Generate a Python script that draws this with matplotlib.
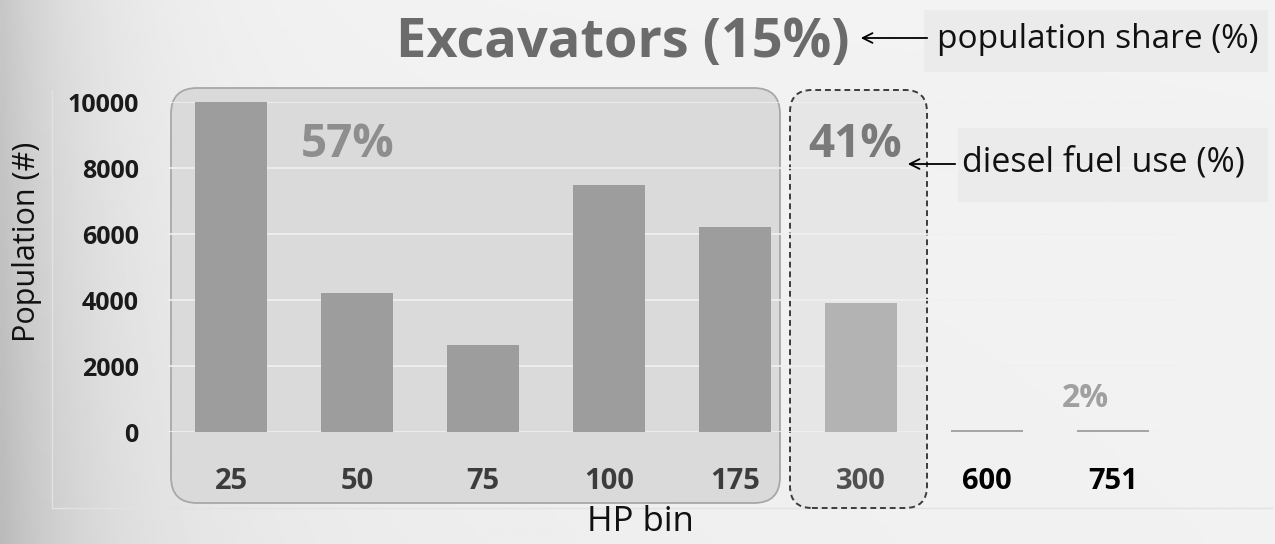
import numpy as np
import matplotlib.pyplot as plt
from matplotlib.patches import FancyBboxPatch, FancyArrowPatch
from matplotlib.transforms import IdentityTransform

plt.rcParams['font.family'] = ['Open Sans', 'DejaVu Sans']

# HP bins and excavator population per bin
hp_bins = ["25", "50", "75", "100", "175", "300", "600", "751"]
population = [10000, 4200, 2650, 7500, 6200, 3900, 60, 60]
bar_colors = ["#9d9d9d"] * 5 + ["#b3b3b3", "#a6a6a6", "#a6a6a6"]
tick_colors = ["#3c3c3c"] * 5 + ["#505050", "#000000", "#000000"]

# fuel-use shares for the grouped bins
fuel_share = ["57%", "41%", "2%"]
pop_share = "15%"

W, H = 1275, 544
fig = plt.figure(figsize=(W / 100, H / 100), dpi=100)

# soft grey backdrop, darker toward the left edge
bg = fig.add_axes([0, 0, 1, 1], zorder=-10)
xx, yy = np.meshgrid(np.linspace(0, 1, 400), np.linspace(0, 1, 200))
shade = 0.95 - 0.17 * np.exp(-xx / 0.07) - 0.05 * yy * np.exp(-xx / 0.4)
bg.imshow(shade, cmap="gray", vmin=0, vmax=1, aspect="auto", extent=[0, 1, 0, 1])
bg.axis("off")


# boxes placed in pixel space (y measured from the top)
def px_box(x0, y0, x1, y1, **kw):
    p = FancyBboxPatch((x0, H - y1), x1 - x0, y1 - y0,
                       transform=IdentityTransform(), **kw)
    fig.patches.append(p)
    return p


def ptext(px, py, s, **kw):
    fig.text(px / W, 1 - py / H, s, **kw)


# faint chart-area edges (left and bottom)
fig.add_artist(plt.Line2D([52, 52, 1272], [H - 90, H - 508, H - 508],
                          transform=IdentityTransform(), color="#e2e2e2",
                          linewidth=1, zorder=0))

# rounded group boxes
px_box(171, 88, 780, 503, boxstyle="round,pad=0,rounding_size=26",
       facecolor="#dadada", edgecolor="#a8a8a8", linewidth=1.3, zorder=1)
px_box(790, 90, 927, 508, boxstyle="round,pad=0,rounding_size=22",
       facecolor="#e6e6e6", edgecolor="#3c3c3c", linewidth=1.4,
       linestyle=(0, (3, 2)), zorder=1)
# label backgrounds
px_box(924, 10, 1268, 72, boxstyle="square,pad=0", facecolor="#ebebeb",
       edgecolor="none", zorder=1)
px_box(958, 128, 1268, 202, boxstyle="square,pad=0", facecolor="#ebebeb",
       edgecolor="none", zorder=1)

ax = fig.add_axes([168 / W, (H - 432) / H, (1176 - 168) / W, 330 / H], zorder=2)
ax.patch.set_alpha(0)
x = np.arange(len(hp_bins))
ax.bar(x, population, width=0.57, color=bar_colors, zorder=3)
ax.set_xlim(-0.5, 7.5)
ax.set_ylim(0, 10000)
ax.set_yticks(range(0, 10001, 2000))
ax.set_yticklabels([str(v) for v in range(0, 10001, 2000)],
                   fontsize=18, fontweight="bold", color="#1a1a1a")
ax.set_xticks(x)
ax.set_xticklabels(hp_bins, fontsize=21, fontweight="bold")
for lbl, c in zip(ax.get_xticklabels(), tick_colors):
    lbl.set_color(c)
ax.tick_params(length=0)
ax.tick_params(axis="x", pad=25)
ax.tick_params(axis="y", pad=21)
ax.yaxis.grid(True, color="#f0f0f0", linewidth=1.2, zorder=0)
for s in ax.spines.values():
    s.set_visible(False)

ptext(27, 242, "Population (#)", fontsize=22, rotation=90,
      ha="center", va="center", color="#111111")
ptext(640, 522, "HP bin", fontsize=25, ha="center", va="center",
      color="#111111")

# title and share annotations
ptext(623, 57, f"Excavators ({pop_share})", fontsize=39, fontweight="bold",
      color="#6b6b6b", ha="center", va="baseline")
ptext(348, 157, fuel_share[0], fontsize=33, fontweight="bold",
      color="#8e8e8e", ha="center", va="baseline", zorder=5)
ptext(855, 157, fuel_share[1], fontsize=33, fontweight="bold",
      color="#7a7a7a", ha="center", va="baseline", zorder=5)
ptext(1085, 407, fuel_share[2], fontsize=23, fontweight="bold",
      color="#a0a0a0", ha="center", va="baseline", zorder=5)
ptext(937, 40, "population share (%)", fontsize=24, color="#111111",
      ha="left", va="center", zorder=5)
ptext(962, 163, "diesel fuel use (%)", fontsize=24.5, color="#111111",
      ha="left", va="center", zorder=5)

for (x0, x1, y) in [(930, 858, 38), (958, 905, 164)]:
    fig.add_artist(FancyArrowPatch(
        (x0, H - y), (x1, H - y), transform=IdentityTransform(),
        arrowstyle="->,head_length=7,head_width=3.5", color="black",
        linewidth=1.3, zorder=6))

fig.savefig("out.png", dpi=100)
